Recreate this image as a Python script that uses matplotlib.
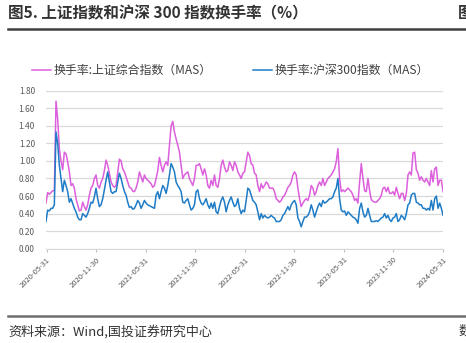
import numpy as np
import pandas as pd
import matplotlib
matplotlib.use("Agg")
import matplotlib.pyplot as plt
import matplotlib.dates as mdates

plt.rcParams['font.family'] = ['Noto Sans CJK SC', 'DejaVu Sans']

# 换手率(MAS)，约每周一个点
sse_turnover = [
    0.52, 0.64, 0.62, 0.64, 0.66, 0.66, 1.68, 1.48, 1.14, 1.00, 0.90, 1.10, 1.08, 0.99, 0.875, 0.72,
    0.74, 0.69, 0.57, 0.50, 0.43, 0.44, 0.53, 0.48, 0.44, 0.50, 0.61, 0.69, 0.72, 0.80, 0.84, 0.72,
    0.69, 0.76, 0.80, 0.89, 1.01, 0.95, 0.86, 0.76, 0.72, 0.70, 0.72, 0.875, 1.02, 1.00, 0.91, 0.875,
    0.82, 0.76, 0.70, 0.69, 0.655, 0.65, 0.69, 0.76, 0.875, 0.82, 0.76,
    0.84, 0.80, 0.78, 0.76, 0.74, 0.70, 0.72, 0.80, 0.89, 1.04, 0.95, 0.875, 0.95, 0.99, 0.95, 1.18,
    1.40, 1.45, 1.33, 1.25, 1.18, 1.10, 0.95, 0.80, 0.84, 0.86, 0.875, 0.80, 0.76, 0.72, 0.80, 0.95,
    0.95, 0.97, 0.91, 0.84, 0.91, 0.84, 0.72, 0.69, 0.78, 0.72, 0.84, 0.72, 0.70, 0.80, 0.95, 1.01,
    0.93, 0.875, 0.89, 0.99, 0.95, 0.89, 0.99, 0.95, 0.875, 0.84, 0.80, 0.86, 0.875, 0.99, 1.10,
    1.06, 0.97, 0.95, 0.86, 0.84, 0.72, 0.65, 0.74, 0.69, 0.72, 0.76, 0.74, 0.69, 0.69, 0.69, 0.65,
    0.57, 0.55, 0.53, 0.55, 0.59, 0.61, 0.65, 0.70, 0.72, 0.76, 0.84, 0.875, 0.84, 0.69, 0.57, 0.48,
    0.52, 0.55, 0.57, 0.55, 0.61, 0.72, 0.69, 0.61, 0.65, 0.72, 0.76, 0.72, 0.80, 0.72, 0.76, 0.80,
    0.82, 0.84, 0.875, 0.91, 0.99, 1.14, 0.80, 0.65, 0.67, 0.65, 0.67, 0.69, 0.67, 0.65, 0.61,
    0.55, 0.57, 0.52, 0.76, 0.97, 0.80, 0.66, 0.65, 0.80, 0.66, 0.56, 0.54, 0.53, 0.53, 0.55, 0.57,
    0.61, 0.69, 0.70, 0.65, 0.70, 0.63, 0.63, 0.65, 0.61, 0.70, 0.63, 0.57, 0.63, 0.63, 0.55, 0.63,
    0.84, 0.875, 0.84, 1.09, 1.10, 0.90, 0.86, 0.78, 0.82, 0.78, 0.76, 0.80, 0.76, 0.72, 0.89, 0.76,
    0.91, 0.93, 0.72, 0.78, 0.78, 0.65,
]
hs300_turnover = [
    0.31, 0.44, 0.43, 0.46, 0.46, 0.50, 1.33, 1.20, 0.95, 0.80, 0.65, 0.78, 0.72, 0.65, 0.53, 0.57,
    0.516, 0.46, 0.42, 0.36, 0.33, 0.33, 0.40, 0.38, 0.36, 0.40, 0.46, 0.53, 0.52, 0.59, 0.69, 0.57,
    0.48, 0.50, 0.57, 0.67, 0.78, 0.875, 0.76, 0.65, 0.63, 0.65, 0.65, 0.76, 0.86, 0.80, 0.72, 0.65,
    0.61, 0.53, 0.47, 0.48, 0.45, 0.46, 0.50, 0.55, 0.52, 0.46, 0.50,
    0.55, 0.52, 0.50, 0.49, 0.48, 0.47, 0.46, 0.61, 0.65, 0.57, 0.65, 0.72, 0.69, 0.63, 0.72, 0.84,
    0.97, 0.93, 0.875, 0.76, 0.72, 0.69, 0.65, 0.53, 0.52, 0.55, 0.57, 0.50, 0.44, 0.46, 0.50, 0.65,
    0.67, 0.57, 0.52, 0.50, 0.53, 0.57, 0.50, 0.46, 0.52, 0.46, 0.53, 0.42, 0.40, 0.48, 0.55, 0.59,
    0.53, 0.42, 0.50, 0.55, 0.59, 0.53, 0.48, 0.50, 0.57, 0.46, 0.40, 0.44, 0.42, 0.55, 0.69,
    0.67, 0.61, 0.55, 0.53, 0.50, 0.42, 0.33, 0.40, 0.35, 0.38, 0.36, 0.35, 0.36, 0.38, 0.36, 0.35,
    0.31, 0.31, 0.31, 0.33, 0.38, 0.40, 0.44, 0.48, 0.44, 0.50, 0.53, 0.55, 0.50, 0.35, 0.31, 0.25,
    0.31, 0.36, 0.36, 0.38, 0.42, 0.50, 0.44, 0.36, 0.42, 0.48, 0.52, 0.48, 0.55, 0.52, 0.53, 0.55,
    0.57, 0.57, 0.59, 0.65, 0.69, 0.80, 0.57, 0.44, 0.42, 0.43, 0.38, 0.42, 0.40, 0.38, 0.36,
    0.35, 0.33, 0.29, 0.46, 0.52, 0.42, 0.36, 0.38, 0.46, 0.38, 0.31, 0.31, 0.31, 0.32, 0.31, 0.33,
    0.35, 0.36, 0.40, 0.35, 0.38, 0.33, 0.31, 0.35, 0.36, 0.40, 0.31, 0.33, 0.38, 0.36, 0.33, 0.40,
    0.50, 0.52, 0.61, 0.63, 0.63, 0.53, 0.52, 0.50, 0.50, 0.46, 0.46, 0.44, 0.46, 0.44, 0.55, 0.44,
    0.57, 0.60, 0.46, 0.52, 0.46, 0.38,
]
dates = pd.date_range("2020-05-29", "2024-05-31", periods=len(sse_turnover))

tick_labels = ["2020-05-31", "2020-11-30", "2021-05-31", "2021-11-30", "2022-05-31",
               "2022-11-30", "2023-05-31", "2023-11-30", "2024-05-31"]
y_ticks = [0.0, 0.2, 0.4, 0.6, 0.8, 1.0, 1.2, 1.4, 1.6, 1.8]

sse_name = "换手率:上证综合指数（MAS）"
hs_name = "换手率:沪深300指数（MAS）"
title = "图5. 上证指数和沪深 300 指数换手率（%）"
source = "资料来源：Wind,国投证券研究中心"

pink = "#DC5FDC"
blue = "#1F7CC6"
grey_txt = "#595959"

fig = plt.figure(figsize=(4.66, 3.43), dpi=100)
ax = fig.add_axes([0.0987, 0.2749, 0.852, 0.4606])

ax.plot(dates, sse_turnover, color=pink, lw=1.1, label=sse_name)
ax.plot(dates, hs300_turnover, color=blue, lw=1.1, label=hs_name)

ax.set_ylim(0, 1.8)
ax.set_xlim(dates[0], dates[-1])
ax.set_yticks(y_ticks)
ax.set_yticklabels([f"{v:.2f}" for v in y_ticks], fontsize=6, color=grey_txt)
ax.yaxis.grid(True, color="#D9D9D9", lw=0.9)
ax.set_axisbelow(True)
ax.tick_params(axis="y", length=0, pad=8)

ax.set_xticks(pd.to_datetime(tick_labels))
ax.xaxis.set_major_formatter(mdates.DateFormatter("%Y-%m-%d"))
for lab in ax.get_xticklabels():
    lab.set_rotation(45)
    lab.set_ha("right")
    lab.set_rotation_mode("anchor")
    lab.set_fontsize(5.5)
    lab.set_color(grey_txt)
ax.tick_params(axis="x", length=2, color="#BFBFBF", pad=3)

for s in ["top", "right", "left"]:
    ax.spines[s].set_visible(False)
ax.spines["bottom"].set_color("#D9D9D9")

fig.legend(loc="center", bbox_to_anchor=(0.494, 0.795), ncol=2, frameon=False,
           fontsize=8.6, handlelength=1.6, handletextpad=0.2, columnspacing=3.5,
           labelcolor="#404040")

fig.text(0.017, 0.962, title, fontsize=11.2, color="#333333", fontweight="bold", va="center")
fig.text(0.982, 0.962, "图", fontsize=11.2, color="#333333", fontweight="bold", va="center")
fig.add_artist(plt.Line2D([0.017, 1.0], [0.915, 0.915], color="#404040", lw=1.8))

fig.add_artist(plt.Line2D([0.017, 1.0], [0.079, 0.079], color="#6E6E6E", lw=1.8))
fig.text(0.017, 0.033, source, fontsize=9.4, color="#333333", va="center", style="italic")
fig.text(0.985, 0.033, "数", fontsize=9.4, color="#333333", va="center")

fig.savefig("out.png", dpi=100)
